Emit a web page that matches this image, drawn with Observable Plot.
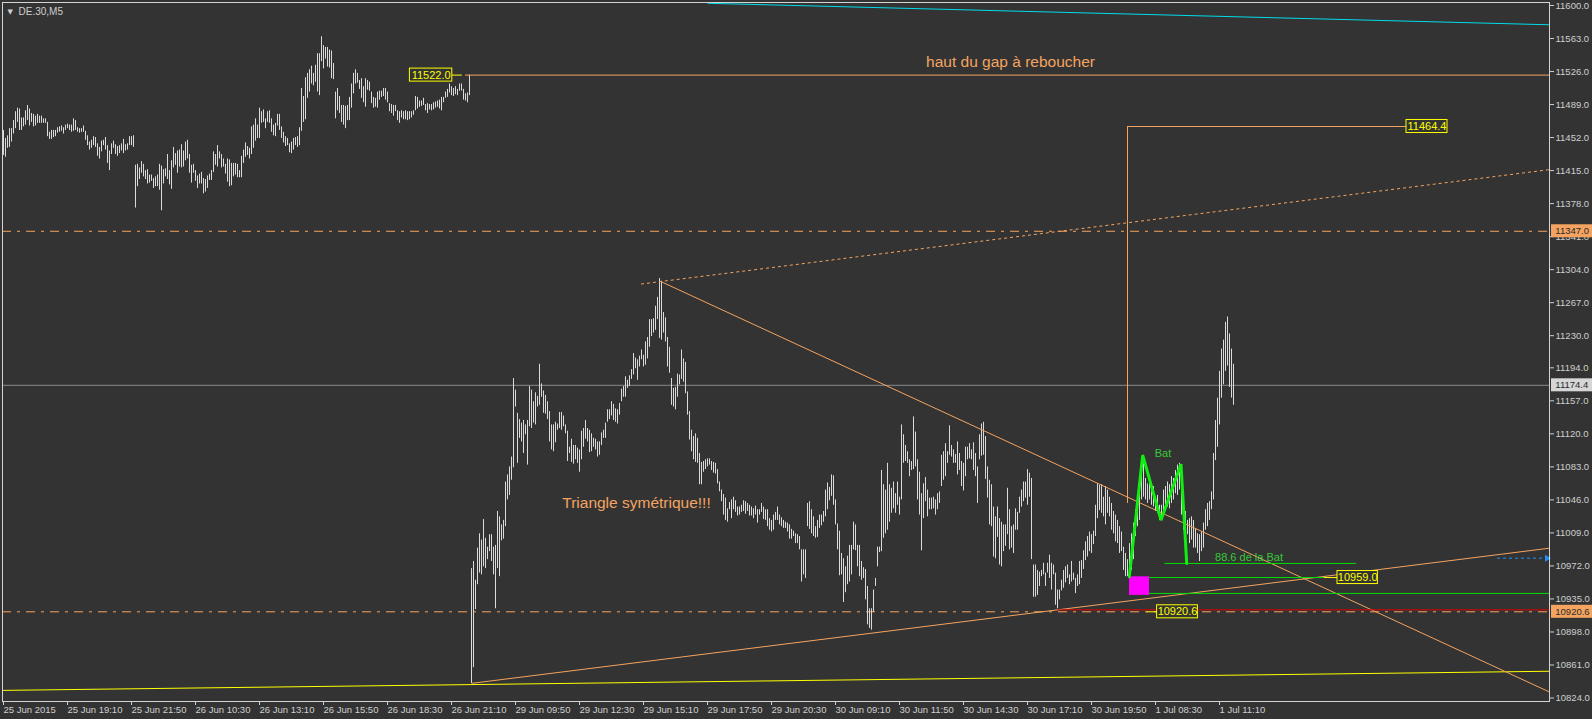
<!DOCTYPE html>
<html><head><meta charset="utf-8">
<script src="https://cdn.jsdelivr.net/npm/d3@7"></script>
<script src="https://cdn.jsdelivr.net/npm/@observablehq/plot@0.6"></script>
<style>
html,body{margin:0;padding:0;background:#333333;overflow:hidden;}
#chart{width:1592px;height:719px;}
</style></head><body><div id="chart"></div>
<script>
// ---------- DATA ----------
const symbolTitle = "DE.30,M5";
const priceTicks = [11600,11563,11526,11489,11452,11415,11378,11341,11304,11267,11230,11194,11157,11120,11083,11046,11009,10972,10935,10898,10861,10824];
const timeTickBars = [0,32,64,96,128,160,192,224,256,288,320,352,384,416,448,480,512,544,576,608];
const timeTickLabels = ["25 Jun 2015","25 Jun 19:10","25 Jun 21:50","26 Jun 10:30","26 Jun 13:10","26 Jun 15:50","26 Jun 18:30","26 Jun 21:10","29 Jun 09:50","29 Jun 12:30","29 Jun 15:10","29 Jun 17:50","29 Jun 20:30","30 Jun 09:10","30 Jun 11:50","30 Jun 14:30","30 Jun 17:10","30 Jun 19:50","1 Jul 08:30","1 Jul 11:10"];

// M5 bars, first bar index of each session
const sessionStart = [0, 66, 234, 402, 570];
const thuHigh = [11460,11451,11454,11462,11462,11471,11481,11485,11484,11474,
 11474,11482,11488,11484,11479,11478,11476,11478,11476,11476,
 11473,11473,11469,11458,11460,11460,11460,11463,11464,11465,
 11463,11466,11467,11466,11466,11473,11471,11463,11462,11462,
 11465,11459,11454,11447,11449,11453,11452,11445,11441,11448,
 11449,11452,11443,11437,11445,11448,11444,11442,11443,11445,
 11450,11444,11445,11453,11453,11454];
const thuLow = [11432,11430,11440,11441,11447,11456,11462,11469,11460,11460,
 11464,11466,11471,11465,11469,11464,11465,11468,11468,11468,
 11468,11468,11453,11450,11450,11452,11453,11457,11458,11459,
 11456,11460,11462,11460,11458,11459,11460,11458,11457,11458,
 11458,11449,11443,11438,11440,11443,11441,11431,11428,11436,
 11443,11438,11423,11415,11433,11440,11433,11431,11434,11437,
 11434,11437,11438,11443,11443,11441];
const friHigh = [11421,11422,11418,11425,11422,11415,11416,11410,11410,11406,
 11408,11410,11422,11420,11416,11417,11433,11415,11426,11441,
 11434,11437,11438,11444,11437,11447,11449,11433,11421,11422,
 11415,11409,11411,11413,11406,11405,11409,11411,11415,11436,
 11433,11443,11436,11433,11428,11422,11428,11427,11423,11423,
 11423,11422,11415,
 11431,11438,11446,11442,11440,11464,11466,11473,11466,11485,
 11481,11483,11473,11481,11482,11473,11466,11468,11478,11478,
 11464,11458,11453,11451,11445,11447,11451,11452,11453,11463,
 11507,11498,11519,11524,11528,11532,11524,11533,11546,11546,
 11565,11555,11553,11553,11550,11549,11535,11503,11507,11498,
 11488,11488,11487,11488,11497,11512,11524,11528,11524,11516,
 11518,11509,11518,11516,11514,11503,11497,11496,11503,11504,
 11504,11507,11507,11503,11490,11489,11488,11488,11482,11481,
 11482,11481,11482,11481,11481,11481,11482,11498,11497,11493,
 11493,11496,11489,11490,11489,11489,11491,11492,11493,11494,
 11497,11497,11503,11506,11512,11509,11507,11509,11506,11512,
 11512,11506,11501,11502,11522];
const friLow = [11373,11397,11405,11412,11408,11405,11400,11401,11403,11395,
 11397,11397,11393,11370,11400,11408,11405,11399,11394,11418,
 11421,11412,11419,11418,11419,11426,11428,11412,11401,11412,
 11403,11395,11400,11400,11389,11391,11395,11404,11404,11413,
 11421,11419,11428,11418,11419,11411,11402,11397,11398,11408,
 11410,11407,11407,
 11407,11423,11430,11432,11428,11433,11440,11448,11451,11451,
 11468,11469,11462,11469,11468,11458,11454,11453,11465,11460,
 11451,11446,11442,11443,11435,11434,11438,11443,11441,11443,
 11459,11469,11472,11496,11503,11512,11510,11514,11503,11499,
 11537,11529,11540,11531,11530,11518,11517,11473,11482,11479,
 11469,11466,11462,11471,11471,11485,11501,11512,11513,11506,
 11496,11491,11486,11505,11504,11490,11485,11486,11485,11494,
 11497,11498,11494,11491,11481,11479,11476,11481,11471,11468,
 11474,11472,11472,11471,11472,11474,11477,11482,11484,11486,
 11487,11488,11482,11479,11483,11482,11483,11485,11486,11484,
 11482,11491,11496,11497,11502,11499,11498,11500,11499,11504,
 11504,11494,11493,11491,11499];
const monHigh = [10969,10977,10956,10992,11008,11001,11024,11003,10993,11007,
 11007,10993,10995,11033,11027,11018,11023,11066,11074,11083,
 11094,11182,11169,11143,11136,11132,11135,11130,11135,11173,
 11169,11156,11166,11162,11198,11176,11168,11163,11156,11145,
 11130,11130,11133,11131,11144,11144,11140,11130,11123,11105,
 11114,11107,11107,11104,11102,11123,11126,11135,11126,11124,
 11120,11115,11114,11111,11111,11121,11124,11132,11147,11147,
 11156,11153,11148,11147,11154,11170,11173,11184,11180,11185,
 11192,11210,11205,11203,11207,11214,11208,11223,11228,11248,
 11248,11249,11263,11273,11294,11291,11256,11250,11228,11217,
 11182,11171,11172,11187,11186,11214,11204,11200,11167,11145,
 11124,11117,11120,11115,11098,11088,11089,11091,11092,11092,
 11089,11088,11087,11080,11066,11057,11052,11048,11036,11043,
 11046,11049,11045,11038,11038,11040,11045,11044,11042,11040,
 11038,11036,11039,11035,11035,11042,11038,11035,11035,11025,
 11023,11029,11032,11038,11029,11026,11023,11021,11020,11018,
 11013,11011,11008,11007,11005,10990,10990,10990];
const monLow = [10840,10858,10923,10951,10964,10962,10971,10969,10979,10988,
 10977,10962,10924,10969,10960,11000,11002,11016,11046,11051,
 11068,11082,11150,11087,11115,11111,11098,11119,11085,11128,
 11126,11132,11130,11150,11152,11161,11143,11142,11136,11111,
 11102,11100,11110,11124,11126,11124,11128,11120,11089,11098,
 11088,11086,11091,11087,11077,11091,11105,11114,11111,11099,
 11100,11105,11102,11094,11096,11107,11115,11115,11133,11136,
 11140,11135,11133,11131,11141,11156,11161,11161,11171,11173,
 11181,11186,11193,11180,11195,11203,11195,11197,11204,11217,
 11229,11233,11236,11248,11227,11225,11233,11223,11195,11188,
 11152,11150,11147,11161,11175,11181,11178,11165,11141,11113,
 11100,11091,11088,11087,11063,11063,11077,11080,11083,11085,
 11079,11076,11075,11064,11055,11044,11029,11023,11021,11035,
 11025,11035,11032,11028,11029,11032,11033,11030,11033,11028,
 11028,11025,11029,11020,11029,11032,11024,11023,11016,11012,
 11010,11012,11023,11023,11018,11016,11014,11014,11010,11002,
 11002,11005,10997,10997,10990,10954,10962,10958];
const tueHigh = [11042,11044,11035,11027,11016,11023,11029,11029,11033,11057,
 11065,11060,11074,11073,11046,11019,11011,10986,10980,10971,
 10983,10995,10995,11021,11018,10995,10995,10977,10970,10968,
 10949,10924,10924,10945,10958,10993,10993,11079,11063,11057,
 11087,11063,11059,11066,11053,11066,11049,11130,11119,11107,
 11100,11091,11089,11139,11122,11091,11077,11053,11064,11071,
 11057,11048,11048,11049,11046,11053,11055,11096,11100,11109,
 11100,11129,11107,11102,11097,11111,11098,11089,11087,11105,
 11105,11109,11102,11110,11098,11083,11119,11131,11133,11117,
 11083,11068,11063,11038,11027,11038,11025,11021,11018,11018,
 11059,11035,11016,11018,11036,11032,11049,11057,11066,11066,
 11080,11076,11070,10973,10973,10967,10965,10967,10975,10964,
 10975,10984,10975,10973,10964,10945,10945,10956,10967,10971,
 10973,10962,10977,10964,10958,10962,10977,10978,10989,10999,
 11005,11010,11007,11011,11040,11064,11062,11063,11049,11061,
 11057,11049,11042,11033,11029,11023,11016,11010,10993,10986,
 10979,10997,11008,11020,11035,11042,11061,11087];
const tueLow = [11016,11013,11008,11005,11003,11004,11014,11017,11021,11027,
 11035,11045,11050,11040,11018,10990,10961,10962,10931,10942,
 10951,10954,10962,10990,10989,10971,10960,10956,10958,10934,
 10906,10902,10900,10920,10949,10971,10987,10988,11003,11008,
 11012,11021,11031,11036,11031,11040,11029,11046,11087,11089,
 11087,11072,11079,11080,11083,11046,11029,10989,11025,11044,
 11027,11035,11035,11036,11029,11035,11042,11061,11068,11072,
 11087,11096,11094,11087,11087,11074,11079,11061,11056,11072,
 11091,11092,11091,11079,11072,11042,11091,11095,11096,11069,
 11048,11018,11016,10982,10980,11004,10973,10971,10988,10994,
 11007,10990,10992,10986,11012,11012,11031,11038,11044,11048,
 11040,11049,10979,10937,10937,10939,10949,10960,10962,10949,
 10964,10958,10945,10962,10928,10924,10934,10944,10947,10953,
 10958,10951,10954,10956,10941,10949,10951,10958,10968,10978,
 10982,10988,10986,10996,11005,11025,11034,11031,11027,11018,
 11031,11027,11012,11008,10999,10997,10986,10988,10967,10960,
 10960,10962,10967,10979,11005,11016,11023,11046];
const wedHigh = [11096,11070,11064,11068,11063,11061,11049,11051,11040,11040,
 11057,11061,11066,11063,11072,11070,11079,11085,11087,11070,
 11049,11033,11023,11025,11027,11023,11014,11008,11007,11010,
 11020,11035,11042,11044,11055,11098,11135,11160,11190,11215,
 11225,11245,11251,11232,11215,11198];
const wedLow = [11049,11046,11042,11046,11040,11038,11033,11031,11023,11023,
 11029,11033,11038,11036,11042,11046,11053,11051,11057,11029,
 11012,10997,11007,10997,11001,10992,10992,10986,10977,10988,
 10992,11012,11016,11023,11035,11046,11090,11105,11130,11160,
 11175,11190,11196,11172,11160,11152];

// levels and drawn objects (bar index, price)
const bidPrice = 11174.4;
const dashDotLevels = [11347.0, 10920.6];
const gapTop = {value: 11522.0, fromBar: 231};
const cyanLine = {b1: 352, p1: 11602.5, b2: 773, p2: 11578.4};
const yellowLine = {b1: -1.75, p1: 10832.5, b2: 773, p2: 10854.0};
const triangleDown = {b1: 328.25, p1: 11291.1, b2: 773.5, p2: 10830.2};
const triangleUp = {b1: 234.25, p1: 10840.5, b2: 773, p2: 10991.9};
const channelDotted = {b1: 318.75, p1: 11287.9, b2: 773.5, p2: 11416.2};
const targetLevel = 11464.4;
const targetVertical = {bar: 562, from: 11042, to: 11464.4};
const targetHorizontal = {b1: 562, b2: 701.5};
const redLevel = {value: 10922.8, fromBar: 527.25};
const batPoints = [[562.9,10959.8],[569.6,11096.1],[578.75,11023.3],[588.75,11086.0],[591.6,10974.8]];
const bat886 = {value: 10974.8, b1: 580.75, b2: 676.6};
const greenX = {value: 10959.0, b1: 562.9, b2: 660.5};
const greenLow = {value: 10941.2, b1: 568.75, b2: 773};
const magentaBox = {b1: 563, b2: 573, p1: 10939.0, p2: 10959.8};
const blueArrow = {value: 10980.7, b1: 747, b2: 771.75};
// yellow price labels on chart: value, box left/right (bars), tick left/right (bars)
const chartTags = [
  {text: "11522.0", value: 11522.0, b1: 203.2, b2: 224.4, t1: 224.4, t2: 229.4},
  {text: "11464.4", value: 11464.4, b1: 701.5, b2: 722, t1: 701.5, t2: 701.5},
  {text: "10959.0", value: 10959.0, b1: 667, b2: 687.2, t1: 660.5, t2: 667},
  {text: "10920.6", value: 10920.6, b1: 576.8, b2: 597.2, t1: 571.8, t2: 576.8}
];
// price tags on the right axis
const axisTags = [
  {text: "11347.0", value: 11347.0, kind: "level"},
  {text: "10920.6", value: 10920.6, kind: "level"},
  {text: "11174.4", value: 11174.4, kind: "bid"}
];
const notes = [
  {text: "haut du gap à reboucher", bar: 503.5, value: 11537, size: 15.5, color: "#F4A460"},
  {text: "Triangle symétrique!!!", bar: 316.5, value: 11043, size: 15.5, color: "#F4A460"},
  {text: "Bat", bar: 579.75, value: 11098.5, size: 11, color: "#38c838"},
  {text: "88.6 de la Bat", bar: 622.75, value: 10981.4, size: 11, color: "#38c838"}
];

// ---------- BUILD ----------
const bars = [];
[[thuHigh, thuLow],[friHigh, friLow],[monHigh, monLow],[tueHigh, tueLow],[wedHigh, wedLow]].forEach(([hi, lo], s) => {
  hi.forEach((h, k) => bars.push({i: sessionStart[s] + k, high: h, low: lo[k]}));
});
const labelOf = new Map(timeTickBars.map((b, k) => [b, timeTickLabels[k]]));
const SANDY = "#F4A460", FG = "#cfcfcf", FONT = "Liberation Sans, Arial, sans-serif";
const halfTag = 7.3;
const seg = (o) => [o];

const plot = Plot.plot({
  width: 1592, height: 719,
  marginLeft: 2, marginRight: 43, marginTop: 2, marginBottom: 18,
  style: {background: "#333333", color: FG, fontFamily: FONT, fontSize: "9.5px"},
  x: {domain: [-0.5, 773]},
  y: {domain: [10820.09, 11603.36]},
  marks: [
    Plot.ruleY([bidPrice], {stroke: "#8a8a8a"}),
    Plot.ruleY(dashDotLevels, {stroke: SANDY, strokeDasharray: "9,6,3,6"}),
    Plot.link(seg(yellowLine), {x1: "b1", y1: "p1", x2: "b2", y2: "p2", stroke: "#ffff00", clip: true}),
    Plot.link(seg(cyanLine), {x1: "b1", y1: "p1", x2: "b2", y2: "p2", stroke: "#00dcea", clip: true}),
    Plot.ruleX(bars, {x: "i", y1: "low", y2: "high", stroke: "#dadada"}),
    Plot.link([triangleDown, triangleUp], {x1: "b1", y1: "p1", x2: "b2", y2: "p2", stroke: SANDY, clip: true}),
    Plot.link(seg(channelDotted), {x1: "b1", y1: "p1", x2: "b2", y2: "p2", stroke: SANDY, strokeDasharray: "3,3", clip: true}),
    Plot.ruleY([gapTop], {y: "value", x1: "fromBar", x2: () => 773, stroke: SANDY}),
    Plot.ruleX([targetVertical], {x: "bar", y1: "from", y2: "to", stroke: SANDY}),
    Plot.ruleY([targetHorizontal], {y: () => targetLevel, x1: "b1", x2: "b2", stroke: SANDY}),
    Plot.ruleY([redLevel], {y: "value", x1: "fromBar", x2: () => 773, stroke: "#e00000"}),
    Plot.ruleY([bat886, greenX, greenLow], {y: "value", x1: "b1", x2: "b2", stroke: "#00e000"}),
    Plot.rect([magentaBox], {x1: "b1", x2: "b2", y1: "p1", y2: "p2", fill: "#ff00ff"}),
    Plot.line(batPoints, {x: d => d[0], y: d => d[1], stroke: "#10ee10", strokeWidth: 3, strokeLinejoin: "miter"}),
    Plot.ruleY([blueArrow], {y: "value", x1: "b1", x2: "b2", stroke: "#1e90ff", strokeDasharray: "3,3"}),
    Plot.dot([blueArrow], {x: "b2", y: "value", symbol: "triangle", rotate: 90, r: 2.6, fill: "#1e90ff", stroke: "none"}),
    // chart price tags
    Plot.ruleY(chartTags, {y: "value", x1: "t1", x2: "t2", stroke: "#ffff00"}),
    Plot.rect(chartTags, {x1: "b1", x2: "b2", y1: d => d.value - halfTag, y2: d => d.value + halfTag, fill: "#333333", stroke: "#ffff00"}),
    Plot.text(chartTags, {x: d => (d.b1 + d.b2) / 2, y: "value", text: "text", fill: "#ffff00", fontSize: 11}),
    // notes
    Plot.text(notes, {x: "bar", y: "value", text: "text", fill: "color", fontSize: "size"}),
    // axes
    Plot.axisY(priceTicks, {anchor: "right", tickSize: 4, tickPadding: 2, tickFormat: d => d.toFixed(1), label: null, fontSize: 9.5, stroke: FG, fill: FG}),
    Plot.axisX(timeTickBars, {anchor: "bottom", tickSize: 4, tickPadding: 1, tickFormat: d => labelOf.get(d), textAnchor: "start", label: null, fontSize: 9.5, stroke: FG, fill: FG}),
    // right axis tags
    Plot.rect(axisTags, {x1: 774, x2: 797, y1: d => d.value - halfTag, y2: d => d.value + halfTag, fill: d => d.kind === "bid" ? "#d6d6d6" : SANDY}),
    Plot.text(axisTags, {x: 775.9, y: "value", text: "text", textAnchor: "start", fill: "#2a2a2a", fontSize: 9.5}),
    Plot.frame({stroke: "#d4d4d4"}),
    Plot.text([symbolTitle], {frameAnchor: "top-left", dx: 16, dy: 5, lineAnchor: "top", textAnchor: "start", fill: FG, fontSize: 10}),
    Plot.text(["▼"], {frameAnchor: "top-left", dx: 5, dy: 7, lineAnchor: "top", textAnchor: "start", fill: FG, fontSize: 7, fontFamily: "DejaVu Sans"})
  ]
});
document.getElementById("chart").append(plot);
</script></body></html>
